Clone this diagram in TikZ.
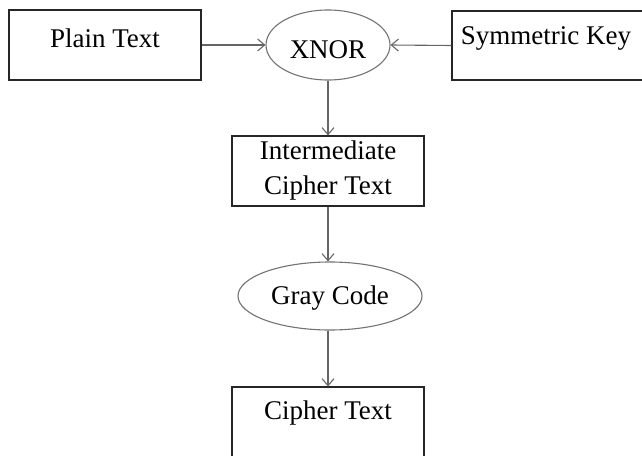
\documentclass[tikz,border=0pt]{standalone}
\usepackage{fontspec}
\setmainfont{Liberation Serif}
\usetikzlibrary{shapes.geometric,arrows.meta}
\begin{document}
\begin{tikzpicture}[x=1pt,y=-1pt,
  box/.style={draw=black!85, line width=1.1pt, rectangle, inner sep=0pt},
  oval/.style={draw=black!55, line width=1.1pt, ellipse, inner sep=0pt},
  lbl/.style={font=\fontsize{27}{35}\selectfont, inner sep=0pt, align=center},
  conn/.style={draw=black!60, line width=1.1pt, -{Straight Barb[length=7pt,width=12pt]}}]
\useasboundingbox (0,0) rectangle (642,455);
\clip (0,0) rectangle (642,455);
\node[box, minimum width=192pt, minimum height=70pt] (pt) at (105,45) {};
\node[lbl] (ptl) at (105,38) {Plain Text};
\node[oval, minimum width=124pt, minimum height=70pt] (xnor) at (328,45) {};
\node[lbl] (xnorl) at (328,50) {XNOR};
\node[box, minimum width=230pt, minimum height=69pt] (key) at (567,45.5) {};
\node[lbl] (keyl) at (546,38) {Symmetric Key};
\node[box, minimum width=192pt, minimum height=70pt] (ict) at (328,171) {};
\node[lbl] (ictl) at (328,170.5) {Intermediate\\Cipher Text};
\node[oval, minimum width=184pt, minimum height=68pt] (gray) at (330,296) {};
\node[lbl] (grayl) at (330,298) {Gray Code};
\node[box, minimum width=192pt, minimum height=70pt] (ct) at (328,422) {};
\node[lbl] (ctl) at (328,413) {Cipher Text};
\draw[conn] (pt.east) -- (xnor.west);
\draw[conn] (key.west) -- (xnor.east);
\draw[conn] (xnor.south) -- (ict.north);
\draw[conn] (ict.south) -- (ict.south |- gray.north);
\draw[conn] (ct.north |- gray.south) -- (ct.north);
\end{tikzpicture}
\end{document}
